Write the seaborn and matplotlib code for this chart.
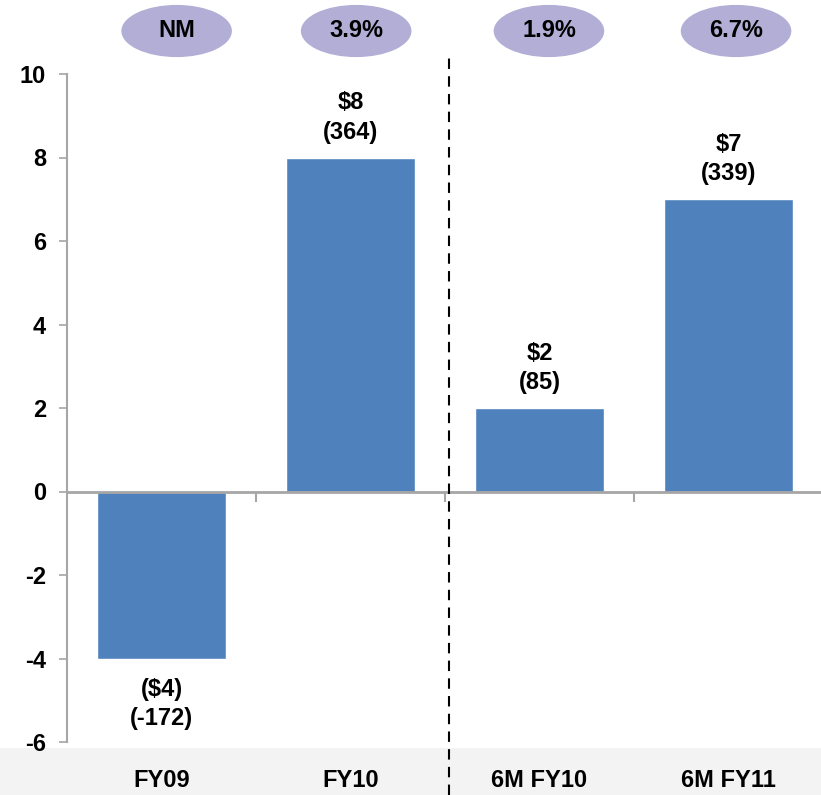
import matplotlib
matplotlib.use("Agg")
import matplotlib.pyplot as plt
from matplotlib import font_manager
from matplotlib.patches import Ellipse, Rectangle
import seaborn as sns
import pandas as pd

categories = ["FY09", "FY10", "6M FY10", "6M FY11"]
values = [-4, 8, 2, 7]
counts = [-172, 364, 85, 339]
margins = ["NM", "3.9%", "1.9%", "6.7%"]
y_ticks = [-6, -4, -2, 0, 2, 4, 6, 8, 10]

sns.set_style("white")
names = {f.name for f in font_manager.fontManager.ttflist}
family = ["Liberation Sans Narrow"] if "Liberation Sans Narrow" in names else ["Liberation Sans"]
plt.rcParams["font.family"] = family + ["DejaVu Sans"]
plt.rcParams["font.weight"] = "bold"
plt.rcParams["text.color"] = "black"
plt.rcParams["ytick.color"] = "black"

BAR = "#4F81BD"
OVAL = "#B2AED6"
GREY = "#A6A6A6"
FS = 17

fig = plt.figure(figsize=(8.21, 7.95), dpi=100)
fig.patch.set_facecolor("white")

# light band along the bottom edge
fig.patches.append(Rectangle((0, 0), 1, 47 / 795, transform=fig.transFigure,
                             facecolor="#F3F3F3", edgecolor="none", zorder=-5))

ax = fig.add_axes([67 / 821, 53 / 795, 756 / 821, 668 / 795])
ax.set_facecolor("none")

df = pd.DataFrame({"category": categories, "value": values})
sns.barplot(data=df, x="category", y="value", color=BAR, saturation=1,
            width=0.685, ax=ax, zorder=2)

ax.set_xlim(-0.5, 3.5)
ax.set_ylim(-6, 10)
ax.set_yticks(y_ticks)
ax.set_yticklabels([str(t) for t in y_ticks], fontsize=FS, fontweight="bold",
                   color="black")
ax.tick_params(axis="y", left=True, direction="out", length=6, width=1.2,
               color=GREY, pad=9, labelcolor="black")

# x axis runs along zero, with ticks at the category boundaries
for side in ["top", "right"]:
    ax.spines[side].set_visible(False)
ax.spines["bottom"].set_position(("data", 0))
ax.spines["bottom"].set_color(GREY)
ax.spines["bottom"].set_linewidth(2)
ax.spines["bottom"].set_zorder(3)
ax.spines["left"].set_color(GREY)
ax.spines["left"].set_linewidth(1.5)
ax.set_xticks([0.5, 1.5, 2.5])
ax.set_xticklabels([])
ax.tick_params(axis="x", bottom=True, direction="out", length=7, width=1.5,
               color=GREY)
ax.set_xlabel("")
ax.set_ylabel("")

# category names below the plot
for i, name in enumerate(categories):
    ax.text(i, -0.057, name, transform=ax.get_xaxis_transform(), ha="center",
            va="center", fontsize=FS, fontweight="bold", color="black",
            clip_on=False)

# value labels: dollars and count
for i, (v, c) in enumerate(zip(values, counts)):
    dollars = f"(${abs(v)})" if v < 0 else f"${v}"
    label = f"{dollars}\n({c})"
    if v >= 0:
        ax.annotate(label, (i, v), xytext=(0, 10), textcoords="offset points",
                    ha="center", va="bottom", fontsize=FS, fontweight="bold",
                    color="black", linespacing=1.35)
    else:
        ax.annotate(label, (i, v), xytext=(0, -14), textcoords="offset points",
                    ha="center", va="top", fontsize=FS, fontweight="bold",
                    color="black", linespacing=1.35)

# margin ovals above the plot
oval_shift = [0.08, 0.03, 0.05, 0.04]
for i, (m, dx) in enumerate(zip(margins, oval_shift)):
    e = Ellipse((i + dx, 11.03), width=0.585, height=1.25, facecolor=OVAL,
                edgecolor="none", clip_on=False, zorder=4)
    ax.add_patch(e)
    ax.text(i + dx, 11.03, m, ha="center", va="center", fontsize=FS,
            fontweight="bold", color="black", zorder=5, clip_on=False)

# dashed divider between full years and half years
ax.plot([1.52, 1.52], [-7.27, 10.4], color="black", lw=1.5,
        linestyle=(0, (5, 3.5)), clip_on=False, zorder=4)

fig.savefig("out.png", dpi=100)
